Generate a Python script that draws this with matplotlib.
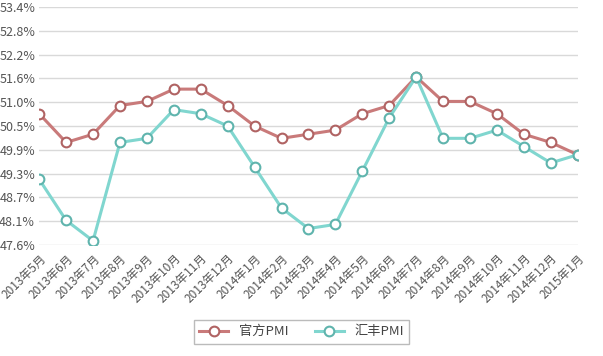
import matplotlib
matplotlib.use("Agg")
import matplotlib.pyplot as plt
import numpy as np

plt.rcParams['font.family'] = ['Noto Sans CJK SC', 'DejaVu Sans']

meses = ['2013年5月', '2013年6月', '2013年7月', '2013年8月', '2013年9月', '2013年10月',
         '2013年11月', '2013年12月', '2014年1月', '2014年2月', '2014年3月', '2014年4月',
         '2014年5月', '2014年6月', '2014年7月', '2014年8月', '2014年9月', '2014年10月',
         '2014年11月', '2014年12月', '2015年1月']
oficial = [50.8, 50.1, 50.3, 51.0, 51.1, 51.4, 51.4, 51.0, 50.5, 50.2, 50.3, 50.4,
           50.8, 51.0, 51.7, 51.1, 51.1, 50.8, 50.3, 50.1, 49.8]
hsbc = [49.2, 48.2, 47.7, 50.1, 50.2, 50.9, 50.8, 50.5, 49.5, 48.5, 48.0, 48.1,
        49.4, 50.7, 51.7, 50.2, 50.2, 50.4, 50.0, 49.6, 49.8]
etiquetas_y = ['47.6%', '48.1%', '48.7%', '49.3%', '49.9%', '50.5%',
               '51.0%', '51.6%', '52.2%', '52.8%', '53.4%']

fig = plt.figure(figsize=(6.03, 3.56), dpi=100)
ax = fig.add_axes([0.065, 0.312, 0.893, 0.668])

x = np.arange(len(meses))
ax.plot(x, oficial, color='#c97a7a', lw=2.2, marker='o', ms=7,
        mfc='white', mec='#b06363', mew=1.5, label='官方PMI', zorder=3)
ax.plot(x, hsbc, color='#80d6cf', lw=2.2, marker='o', ms=7,
        mfc='white', mec='#5fb4ad', mew=1.5, label='汇丰PMI', zorder=3)

ax.set_xlim(0, len(meses) - 1)
ax.set_ylim(47.6, 53.4)
ax.set_yticks(np.linspace(47.6, 53.4, 11))
ax.set_yticklabels(etiquetas_y)
ax.set_xticks(x)
ax.set_xticklabels(meses, rotation=45, ha='right', rotation_mode='anchor')
ax.tick_params(axis='both', length=0, colors='#555555')
ax.tick_params(axis='y', labelsize=9, pad=3)
ax.tick_params(axis='x', labelsize=8.5, pad=5)
ax.grid(axis='y', color='#d9d9d9', lw=1)
ax.set_axisbelow(True)
for s in ax.spines.values():
    s.set_visible(False)

leg = fig.legend(loc='center', bbox_to_anchor=(0.5, 0.068), ncol=2, fontsize=9.5,
                 frameon=True, fancybox=False, edgecolor='#aaaaaa',
                 handlelength=2.2, columnspacing=2.0)
for t in leg.get_texts():
    t.set_color('#444444')

plt.savefig('out.png')
plt.close()
